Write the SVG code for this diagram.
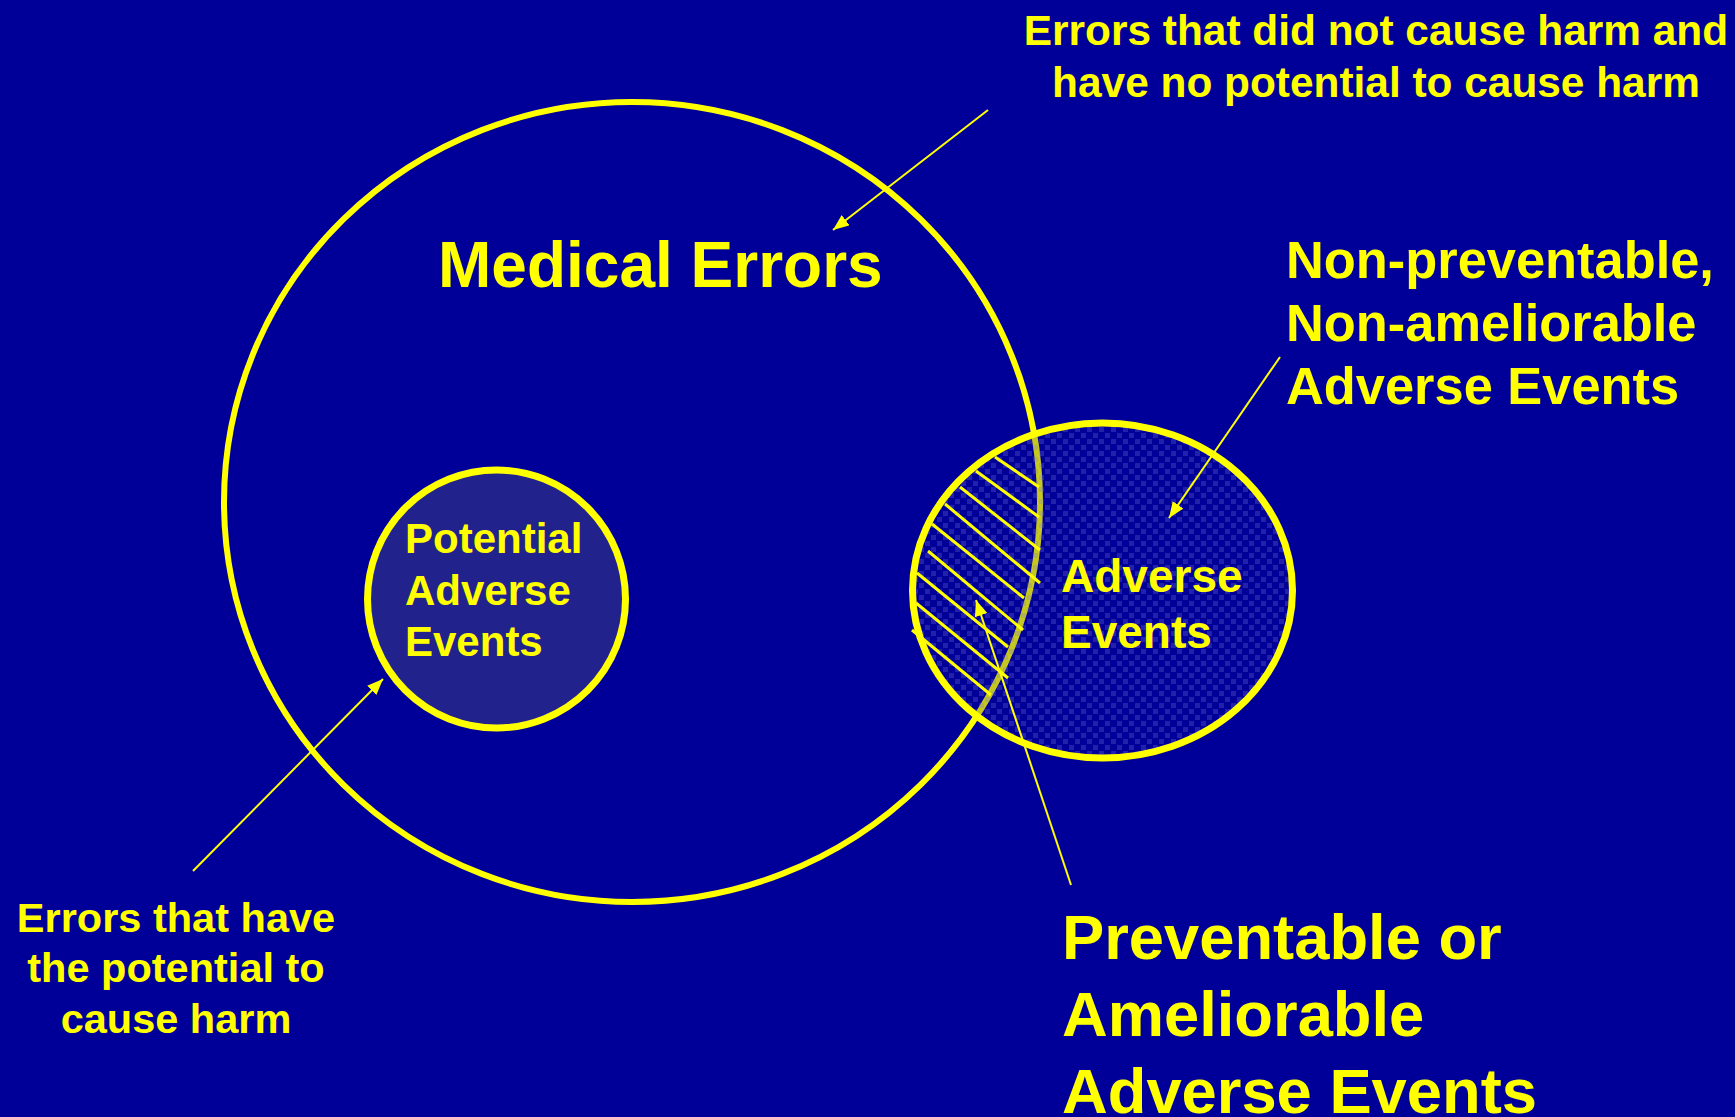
<svg xmlns="http://www.w3.org/2000/svg" width="1735" height="1117" viewBox="0 0 1735 1117">
<style>
.t{font-family:"Liberation Sans",Arial,sans-serif;font-weight:bold;fill:#FFFF00}
.ring{fill:none;stroke:#FFFF00}
.conn{stroke:#FFFF00;stroke-width:2;fill:none;marker-end:url(#ah)}
.hatch{stroke:#FFFF00;stroke-width:3;stroke-linecap:butt}
</style>
<defs>
<marker id="ah" markerUnits="userSpaceOnUse" markerWidth="18" markerHeight="14" refX="16" refY="6.5" orient="auto">
<path d="M0,0 L16,6.5 L0,13 z" fill="#FFFF00"/>
</marker>
<pattern id="dots" patternUnits="userSpaceOnUse" width="12" height="12">
<rect width="12" height="12" fill="rgba(0,0,153,0.22)"/>
<rect x="1" y="1" width="5" height="5" fill="rgba(120,120,220,0.28)"/>
<rect x="7" y="7" width="5" height="5" fill="rgba(120,120,220,0.28)"/>
</pattern>
</defs>
<rect width="1735" height="1117" fill="#000099"/>

<g id="medical-errors">
<ellipse class="ring" cx="632" cy="502" rx="408" ry="400" stroke-width="6"/>
<text class="t" x="438" y="287" font-size="64">Medical Errors</text>
</g>

<g id="potential-adverse-events">
<circle cx="496.5" cy="599" r="129" fill="#22228C" stroke="#FFFF00" stroke-width="7"/>
<text class="t" font-size="42"><tspan x="405" y="553">Potential</tspan><tspan x="405" y="605">Adverse</tspan><tspan x="405" y="656">Events</tspan></text>
</g>

<g id="adverse-events">
<ellipse cx="1102.5" cy="590.5" rx="190" ry="167.5" fill="url(#dots)" stroke="#FFFF00" stroke-width="7"/>
<g id="preventable-hatch">
<line class="hatch" x1="995" y1="457" x2="1039" y2="487"/>
<line class="hatch" x1="976" y1="471" x2="1039" y2="517"/>
<line class="hatch" x1="960" y1="487" x2="1040" y2="550"/>
<line class="hatch" x1="945" y1="504" x2="1040" y2="583"/>
<line class="hatch" x1="932" y1="524" x2="1024" y2="598"/>
<line class="hatch" x1="928" y1="551" x2="1023" y2="630"/>
<line class="hatch" x1="917" y1="573" x2="1008" y2="647"/>
<line class="hatch" x1="916" y1="603" x2="1008" y2="678"/>
<line class="hatch" x1="912" y1="630" x2="991" y2="695"/>
</g>
<text class="t" font-size="46"><tspan x="1061" y="592">Adverse</tspan><tspan x="1061" y="648">Events</tspan></text>
</g>

<g id="label-no-harm">
<text class="t" font-size="42.4" text-anchor="middle"><tspan x="1376" y="45">Errors that did not cause harm and</tspan><tspan x="1376" y="97">have no potential to cause harm</tspan></text>
</g>

<g id="label-non-preventable">
<text class="t" font-size="52.4"><tspan x="1286" y="278">Non-preventable,</tspan><tspan x="1286" y="341">Non-ameliorable</tspan><tspan x="1286" y="404">Adverse Events</tspan></text>
</g>

<g id="label-potential-harm">
<text class="t" font-size="41.5" text-anchor="middle"><tspan x="176" y="932">Errors that have</tspan><tspan x="176" y="982">the potential to</tspan><tspan x="176" y="1033">cause harm</tspan></text>
</g>

<g id="label-preventable">
<text class="t" font-size="63.3"><tspan x="1062" y="959">Preventable or</tspan><tspan x="1062" y="1036">Ameliorable</tspan><tspan x="1062" y="1113">Adverse Events</tspan></text>
</g>

<g id="connectors">
<line class="conn" x1="988" y1="110" x2="833" y2="230"/>
<line class="conn" x1="1280" y1="357" x2="1169" y2="518"/>
<line class="conn" x1="1071" y1="885" x2="976" y2="600"/>
<line class="conn" x1="193" y1="871" x2="383" y2="679"/>
</g>
</svg>
